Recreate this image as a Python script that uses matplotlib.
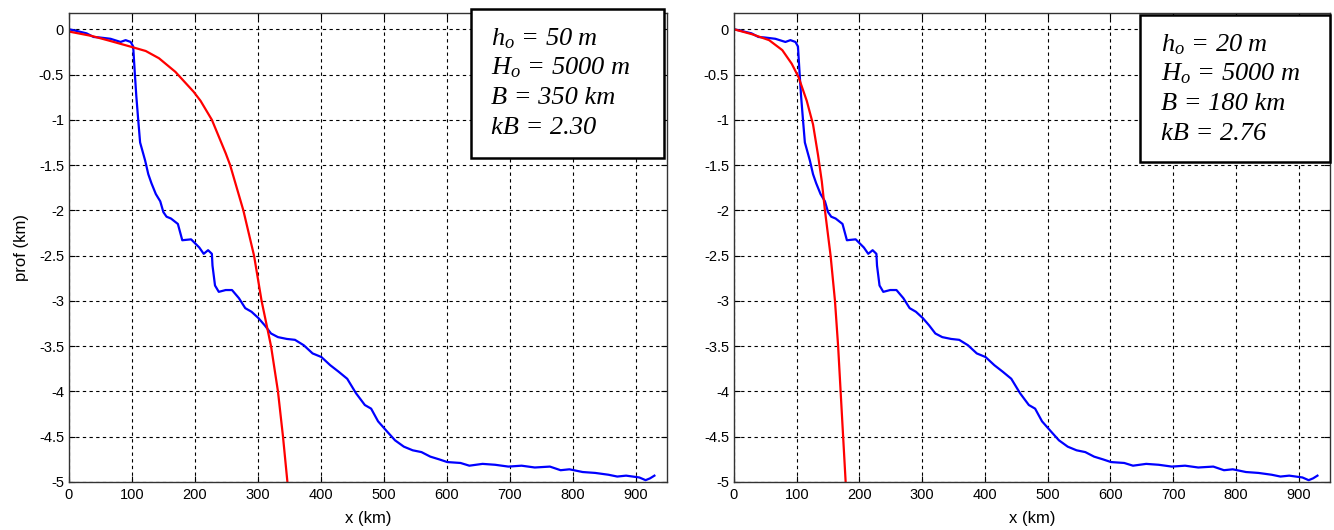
import numpy as np
import matplotlib
matplotlib.use('Agg')
import matplotlib.pyplot as plt
from matplotlib.patches import Rectangle

plt.rcParams['font.family'] = ['Liberation Sans', 'DejaVu Sans']
plt.rcParams['axes.unicode_minus'] = False
plt.rcParams['mathtext.fontset'] = 'custom'
plt.rcParams['mathtext.it'] = 'Liberation Serif:italic'
plt.rcParams['mathtext.rm'] = 'Liberation Serif:italic'

# measured bathymetry profile (km)
x_obs = [0, 10, 28, 39, 48, 66, 82, 90, 98, 102, 105, 107, 110, 113, 117, 121,
         126, 131, 138, 145, 150, 155, 162, 173, 180, 194, 207, 214, 221, 227,
         228, 232, 238, 249, 259, 270, 280, 290, 301, 311, 321, 332, 346, 359,
         373, 387, 401, 415, 428, 442, 456, 470, 480, 491, 505, 518, 532, 546,
         560, 574, 588, 601, 622, 636, 657, 677, 698, 719, 740, 764, 781, 795,
         816, 836, 857, 871, 885, 906, 916, 923, 930]
d_obs = [0, -0.015, -0.045, -0.085, -0.09, -0.105, -0.14, -0.12, -0.14, -0.19,
         -0.53, -0.74, -1.0, -1.25, -1.35, -1.45, -1.6, -1.7, -1.82, -1.9, -2.02,
         -2.07, -2.09, -2.15, -2.33, -2.32, -2.41, -2.48, -2.44, -2.48, -2.61,
         -2.83, -2.9, -2.88, -2.88, -2.97, -3.08, -3.12, -3.19, -3.27, -3.36,
         -3.40, -3.42, -3.43, -3.49, -3.58, -3.62, -3.71, -3.78, -3.86, -4.02,
         -4.15, -4.19, -4.33, -4.44, -4.54, -4.61, -4.65, -4.67, -4.72, -4.75,
         -4.78, -4.79, -4.82, -4.80, -4.81, -4.83, -4.82, -4.84, -4.83, -4.87,
         -4.86, -4.89, -4.90, -4.92, -4.94, -4.93, -4.95, -4.98, -4.96, -4.93]

# model profile, B = 350 km
x_mod1 = [0, 37, 63, 97, 122, 143, 169, 198, 209, 227, 249, 256, 277, 294, 306,
          321, 332, 340, 347]
d_mod1 = [-0.025, -0.075, -0.124, -0.19, -0.24, -0.32, -0.47, -0.69, -0.79, -1.0,
          -1.37, -1.5, -2.0, -2.5, -3.0, -3.5, -4.0, -4.5, -5.0]

# model profile, B = 180 km
x_mod2 = [0, 29, 56, 77, 92, 103, 116, 126, 134, 140, 145, 154, 161, 166, 170,
          174, 178]
d_mod2 = [0, -0.055, -0.12, -0.23, -0.38, -0.53, -0.79, -1.05, -1.39, -1.68, -2.0,
          -2.5, -3.0, -3.5, -4.0, -4.5, -5.0]

labels1 = [r'$h_o$ = 50 m', r'$H_o$ = 5000 m', 'B = 350 km', 'kB = 2.30']
labels2 = [r'$h_o$ = 20 m', r'$H_o$ = 5000 m', 'B = 180 km', 'kB = 2.76']

fig = plt.figure(figsize=(13.34, 5.30), dpi=100)
ax1 = fig.add_axes([0.0517, 0.0906, 0.4483, 0.8849])
ax2 = fig.add_axes([0.5502, 0.0906, 0.4468, 0.8849])


def style(ax):
    ax.set_xlim(0, 950)
    ax.set_ylim(-5, 0.18)
    ax.set_xticks(np.arange(0, 1000, 100))
    ax.set_yticks(np.arange(-5, 0.01, 0.5))
    ax.yaxis.set_major_formatter(plt.FormatStrFormatter('%g'))
    ax.tick_params(direction='in', top=True, right=True, labelsize=10.5,
                   length=4, width=0.8)
    ax.tick_params(axis='x', pad=4.5)
    ax.grid(True, color='black', linestyle=(0, (3, 3)), linewidth=0.8)
    for s in ax.spines.values():
        s.set_linewidth(1.0)
        s.set_color('#333333')
    ax.set_xlabel('x (km)', fontsize=12, labelpad=6)


def textbox(ax, x0, y0, x1, y1, tx, ty, lines):
    ax.add_patch(Rectangle((x0, y0), x1 - x0, y1 - y0, transform=ax.transAxes,
                           facecolor='white', edgecolor='black', lw=1.8,
                           clip_on=False, zorder=5))
    for i, s in enumerate(lines):
        ax.text(tx, ty - i * 0.0635, s, transform=ax.transAxes,
                family='Liberation Serif', style='italic', fontsize=19,
                va='center', ha='left', zorder=6)


ax1.plot(x_obs, d_obs, color='blue', lw=1.6)
ax1.plot(x_mod1, d_mod1, color='red', lw=1.6)
style(ax1)
ax1.set_ylabel('prof (km)', fontsize=12, labelpad=7)
textbox(ax1, 0.673, 0.691, 0.995, 1.0085, 0.705, 0.946, labels1)

ax2.plot(x_obs, d_obs, color='blue', lw=1.6)
ax2.plot(x_mod2, d_mod2, color='red', lw=1.6)
style(ax2)
textbox(ax2, 0.681, 0.682, 1.0, 0.996, 0.716, 0.933, labels2)

fig.savefig('out.png', dpi=100)
